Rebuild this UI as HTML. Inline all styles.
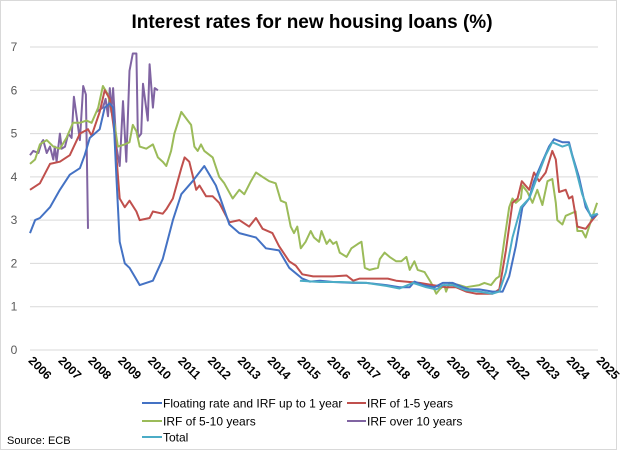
<!DOCTYPE html>
<html><head><meta charset="utf-8"><style>
html,body{margin:0;padding:0;background:#fff}
svg{display:block;font-family:"Liberation Sans",sans-serif}
</style></head><body>
<svg id="chart" width="624" height="453" viewBox="0 0 624 453">
<rect x="0.5" y="0.5" width="616" height="449" fill="#fff" stroke="#d9d9d9"/>
<text x="312" y="28" text-anchor="middle" font-size="19" font-weight="bold" fill="#000">Interest rates for new housing loans (%)</text>
<g id="grid"></g>
<g id="yaxis"></g>
<g id="xaxis"></g>
<g id="series"></g>
<g id="legend">
<line x1="142" y1="403" x2="162" y2="403" stroke="#4472C4" stroke-width="2"/>
<text x="163" y="407.5" font-size="12" fill="#000">Floating rate and IRF up to 1 year</text>
<line x1="347" y1="403" x2="366" y2="403" stroke="#C0504D" stroke-width="2"/>
<text x="367" y="407.5" font-size="12" fill="#000">IRF of 1-5 years</text>
<line x1="142" y1="421" x2="162" y2="421" stroke="#9BBB59" stroke-width="2"/>
<text x="163" y="425.5" font-size="12" fill="#000">IRF of 5-10 years</text>
<line x1="347" y1="421" x2="366" y2="421" stroke="#8064A2" stroke-width="2"/>
<text x="367" y="425.5" font-size="12" fill="#000">IRF over 10 years</text>
<line x1="142" y1="437" x2="162" y2="437" stroke="#4BACC6" stroke-width="2"/>
<text x="163" y="441.5" font-size="12" fill="#000">Total</text>
</g>
<text x="7" y="444" font-size="11" fill="#000">Source: ECB</text>
</svg>
<script>
const yTicks=[0,1,2,3,4,5,6,7];
const xTicks=[2006,2007,2008,2009,2010,2011,2012,2013,2014,2015,2016,2017,2018,2019,2020,2021,2022,2023,2024,2025];

const blueDates=[2006.00,2006.17,2006.33,2006.67,2007.00,2007.33,2007.67,2007.83,2008.00,2008.33,2008.50,2008.67,2008.78,2008.89,2009.00,2009.17,2009.33,2009.50,2009.67,2010.11,2010.44,2010.78,2011.06,2011.44,2011.83,2012.22,2012.67,2013.00,2013.56,2013.89,2014.33,2014.67,2015.11,2015.36,2015.70,2016.14,2016.81,2017.25,2017.92,2018.36,2018.70,2018.86,2019.14,2019.53,2019.81,2020.14,2020.47,2020.70,2021.03,2021.47,2021.81,2022.03,2022.25,2022.47,2022.70,2022.86,2023.14,2023.36,2023.53,2023.81,2024.03,2024.14,2024.36,2024.59,2024.81,2024.99];
const blueVals=[2.7,3.0,3.05,3.3,3.7,4.05,4.2,4.5,4.9,5.1,5.6,5.7,5.6,4.0,2.5,2.0,1.9,1.7,1.5,1.6,2.1,3.0,3.6,3.9,4.25,3.8,2.9,2.7,2.6,2.35,2.3,1.9,1.65,1.58,1.6,1.57,1.55,1.55,1.5,1.45,1.45,1.58,1.5,1.45,1.55,1.55,1.45,1.4,1.4,1.35,1.35,1.7,2.4,3.3,3.5,3.9,4.35,4.7,4.87,4.8,4.8,4.5,4.0,3.3,3.05,3.15];

const redDates=[2006.00,2006.33,2006.67,2007.00,2007.33,2007.67,2007.94,2008.06,2008.33,2008.50,2008.67,2008.83,2009.00,2009.17,2009.33,2009.56,2009.67,2010.00,2010.11,2010.44,2010.56,2010.78,2011.06,2011.17,2011.33,2011.56,2011.67,2011.89,2012.11,2012.33,2012.67,2013.00,2013.33,2013.56,2013.78,2014.11,2014.33,2014.67,2014.89,2015.11,2015.47,2016.14,2016.59,2016.81,2017.03,2017.47,2017.97,2018.25,2018.70,2019.03,2019.47,2019.92,2020.25,2020.59,2020.92,2021.47,2021.70,2021.92,2022.14,2022.31,2022.45,2022.70,2022.86,2023.03,2023.25,2023.47,2023.59,2023.70,2023.92,2024.03,2024.14,2024.31,2024.59,2024.81,2024.99];
const redVals=[3.7,3.85,4.3,4.35,4.5,5.0,5.1,4.95,5.5,6.0,5.8,5.0,3.5,3.3,3.45,3.2,3.0,3.05,3.2,3.15,3.25,3.5,4.2,4.45,4.35,3.7,3.8,3.55,3.55,3.4,2.95,3.0,2.85,3.05,2.8,2.7,2.4,2.05,1.95,1.75,1.7,1.7,1.72,1.6,1.65,1.65,1.65,1.6,1.57,1.55,1.5,1.45,1.45,1.35,1.3,1.3,1.4,2.3,3.4,3.5,3.9,3.7,4.1,3.9,4.1,4.6,4.4,3.65,3.7,3.5,3.55,2.85,2.8,3.0,3.15];

const greenDates=[2006.00,2006.17,2006.33,2006.56,2006.78,2007.00,2007.22,2007.44,2007.67,2007.89,2008.06,2008.28,2008.44,2008.61,2008.83,2008.94,2009.17,2009.33,2009.44,2009.56,2009.67,2009.89,2010.11,2010.28,2010.44,2010.56,2010.72,2010.83,2011.06,2011.28,2011.39,2011.50,2011.61,2011.72,2011.83,2012.11,2012.33,2012.50,2012.78,2013.00,2013.17,2013.39,2013.56,2013.78,2014.00,2014.22,2014.39,2014.56,2014.72,2014.83,2014.94,2015.06,2015.22,2015.39,2015.50,2015.67,2015.75,2015.92,2016.03,2016.14,2016.25,2016.36,2016.59,2016.75,2016.97,2017.09,2017.20,2017.36,2017.64,2017.70,2017.86,2018.03,2018.25,2018.42,2018.59,2018.70,2018.86,2018.97,2019.20,2019.42,2019.59,2019.70,2019.86,2019.92,2020.03,2020.36,2020.59,2021.03,2021.20,2021.42,2021.59,2021.70,2021.86,2022.03,2022.14,2022.25,2022.42,2022.47,2022.64,2022.81,2022.97,2023.14,2023.31,2023.47,2023.59,2023.64,2023.81,2023.92,2024.25,2024.31,2024.47,2024.59,2024.75,2024.97];
const greenVals=[4.3,4.4,4.75,4.85,4.7,4.65,4.9,5.25,5.25,5.3,5.25,5.6,6.1,5.9,5.2,4.7,4.75,4.8,5.2,5.05,4.7,4.65,4.75,4.45,4.35,4.25,4.6,5.0,5.5,5.3,5.2,4.7,4.6,4.75,4.6,4.45,4.0,3.85,3.5,3.7,3.6,3.9,4.1,4.0,3.9,3.85,3.45,3.4,2.85,2.7,2.85,2.35,2.5,2.75,2.6,2.5,2.75,2.45,2.55,2.45,2.5,2.25,2.15,2.35,2.45,2.5,1.9,1.85,1.9,2.1,2.25,2.15,2.05,2.05,2.15,1.85,2.05,1.85,1.8,1.55,1.3,1.4,1.5,1.35,1.55,1.5,1.45,1.5,1.55,1.5,1.65,1.7,2.5,3.3,3.5,3.4,3.5,3.8,3.65,3.4,3.7,3.35,3.9,3.95,3.4,3.0,2.9,3.1,3.2,2.75,2.75,2.6,2.95,3.4];

const purpleDates=[2006.00,2006.11,2006.28,2006.39,2006.44,2006.56,2006.67,2006.78,2006.83,2006.89,2007.00,2007.06,2007.17,2007.28,2007.39,2007.47,2007.67,2007.78,2007.87,2007.94,2008.10,2008.22,2008.44,2008.53,2008.61,2008.67,2008.72,2008.78,2008.89,2009.00,2009.11,2009.22,2009.33,2009.44,2009.56,2009.61,2009.72,2009.78,2009.94,2010.00,2010.11,2010.17,2010.28];
const purpleVals=[4.5,4.6,4.55,4.8,4.85,4.55,4.7,4.4,4.7,4.35,5.0,4.65,4.7,5.0,4.9,5.85,4.85,6.1,5.9,2.8,null,5.5,5.6,5.8,5.4,6.05,5.5,6.05,4.7,4.25,5.75,4.35,6.45,6.85,6.85,4.9,5.0,6.15,5.3,6.6,5.6,6.05,6.0];

const totalDates=[2015.03,2015.70,2016.36,2017.25,2017.92,2018.36,2018.81,2019.25,2019.59,2019.81,2020.14,2020.59,2021.03,2021.47,2021.70,2021.92,2022.14,2022.42,2022.70,2022.97,2023.25,2023.47,2023.81,2024.03,2024.25,2024.47,2024.75,2024.99];
const totalVals=[1.6,1.57,1.57,1.55,1.48,1.42,1.55,1.45,1.4,1.5,1.5,1.38,1.35,1.3,1.35,1.8,2.6,3.3,3.5,4.0,4.5,4.8,4.7,4.75,4.2,3.6,3.1,3.15];

const NS="http://www.w3.org/2000/svg";
const X0=30,X1=598,Y0=350,Y1=47;
function xScale(t){return X0+(t-2006)/(2025-2006)*(X1-X0);}
function yScale(v){return Y0-(v-0)/(7-0)*(Y0-Y1);}

const grid=document.getElementById('grid');
const yaxis=document.getElementById('yaxis');
yTicks.forEach(v=>{
  const l=document.createElementNS(NS,'line');
  l.setAttribute('x1',X0);l.setAttribute('x2',X1);
  l.setAttribute('y1',yScale(v));l.setAttribute('y2',yScale(v));
  l.setAttribute('stroke','#d9d9d9');l.setAttribute('stroke-width','1');
  
  
  grid.appendChild(l);
  const t=document.createElementNS(NS,'text');
  t.setAttribute('x',14);t.setAttribute('y',yScale(v)+4);
  t.setAttribute('text-anchor','middle');t.setAttribute('font-size','12');t.setAttribute('fill','#595959');
  t.textContent=v;
  
  
  yaxis.appendChild(t);
});
const xaxis=document.getElementById('xaxis');
xTicks.forEach(y=>{
  const t=document.createElementNS(NS,'text');
  const cx=xScale(y)+10, cy=372;
  t.setAttribute('x',cx);t.setAttribute('y',cy);
  t.setAttribute('text-anchor','middle');t.setAttribute('font-size','12');t.setAttribute('font-weight','bold');t.setAttribute('fill','#000');
  t.setAttribute('transform','rotate(45 '+cx+' '+(cy-4)+')');
  t.textContent=y;
  
  
  xaxis.appendChild(t);
});
function drawSeries(dates,vals,color,name){
  let d='',pen=false;
  for(let i=0;i<dates.length;i++){
    if(vals[i]===null){pen=false;continue;}
    d+=(pen?'L':'M')+xScale(dates[i]).toFixed(1)+' '+yScale(vals[i]).toFixed(1)+' ';
    pen=true;
  }
  const p=document.createElementNS(NS,'path');
  p.setAttribute('d',d);p.setAttribute('fill','none');p.setAttribute('stroke',color);
  p.setAttribute('stroke-width','2');p.setAttribute('stroke-linejoin','round');
  
  
  document.getElementById('series').appendChild(p);
}
drawSeries(purpleDates,purpleVals,'#8064A2','line-irf-over-10');
drawSeries(greenDates,greenVals,'#9BBB59','line-irf-5-10');
drawSeries(redDates,redVals,'#C0504D','line-irf-1-5');
drawSeries(blueDates,blueVals,'#4472C4','line-floating');
drawSeries(totalDates,totalVals,'#4BACC6','line-total');
</script>
</body></html>
